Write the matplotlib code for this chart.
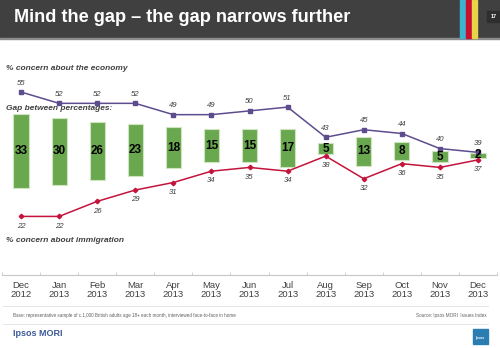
import matplotlib
matplotlib.use("Agg")
import matplotlib.pyplot as plt
from matplotlib.patches import Rectangle

plt.rcParams['font.family'] = ['Liberation Sans', 'DejaVu Sans']

# Daten
months = ['Dec', 'Jan', 'Feb', 'Mar', 'Apr', 'May', 'Jun', 'Jul', 'Aug', 'Sep', 'Oct', 'Nov', 'Dec']
years = ['2012'] + ['2013'] * 12
economy = [55, 52, 52, 52, 49, 49, 50, 51, 43, 45, 44, 40, 39]
immigration = [22, 22, 26, 29, 31, 34, 35, 34, 38, 32, 36, 35, 37]
gap = [e - i for e, i in zip(economy, immigration)]
# vertical centre of each gap bar (own scale of the bar axis)
gap_mid = [55.2, 55.2, 55.3, 55.9, 56.9, 57.8, 57.8, 56.8, 56.4, 55.2, 55.2, 52.8, 53.4]

W, H = 500, 348
fig = plt.figure(figsize=(W / 100, H / 100), dpi=100)
fig.patch.set_facecolor('white')


def fx(px):
    return px / W


def fy(py):
    return 1 - py / H


# Kopfzeile
fig.add_artist(Rectangle((0, fy(38)), 1, 38 / H, transform=fig.transFigure,
                         color='#404040', zorder=0))
fig.add_artist(Rectangle((0, fy(39)), 1, 1 / H, transform=fig.transFigure,
                         color='#8c8c8c', zorder=0))
for x0, x1, c in [(460, 465.7, '#3cb3cf'), (465.7, 472, '#c8102e'), (472, 477.3, '#e8d44a')]:
    fig.add_artist(Rectangle((fx(x0), fy(38)), (x1 - x0) / W, 38 / H,
                             transform=fig.transFigure, color=c, zorder=1))
fig.add_artist(Rectangle((fx(487), fy(22)), 13 / W, 11 / H, transform=fig.transFigure,
                         color='#2e2e2e', zorder=1))
fig.text(fx(494), fy(16.5), '17', color='white', fontsize=4, fontweight='bold',
         ha='center', va='center')
fig.text(fx(14), fy(18), 'Mind the gap \u2013 the gap narrows further', color='white',
         fontsize=13.1, fontweight='bold', ha='left', va='center')

# Achsen
ax = fig.add_axes([fx(2), fy(275), 495 / W, 215 / H])
axb = ax.twinx()
ax.set_zorder(2)
axb.set_zorder(1)
ax.patch.set_visible(False)

ax.set_xlim(-0.5, 12.5)
ax.set_ylim(6.46, 63.5)
axb.set_ylim(0, 96)

x = list(range(len(months)))

# Balken
bottoms = [m - g / 2 for m, g in zip(gap_mid, gap)]
axb.bar(x, gap, bottom=bottoms, width=0.4, color='#6aa84f', edgecolor='#cfe5c2',
        linewidth=0.8)
for xi, g, m in zip(x, gap, gap_mid):
    ax.text(xi, m, str(g), transform=axb.transData, ha='center', va='center',
            fontsize=8.5, fontweight='bold', color='black', zorder=5)

# Linien
ax.plot(x, economy, color='#5e4d8e', lw=1.1, marker='s', ms=3.2, zorder=3)
ax.plot(x, immigration, color='#c4143c', lw=1.1, marker='D', ms=2.3, zorder=3)
for xi, v in zip(x, economy):
    ax.annotate(str(v), (xi, v), xytext=(0, 6.5), textcoords='offset points',
                ha='center', va='center', fontsize=5.6, style='italic', color='#404040')
for xi, v in zip(x, immigration):
    ax.annotate(str(v), (xi, v), xytext=(0, -7), textcoords='offset points',
                ha='center', va='center', fontsize=5.6, style='italic', color='#404040')

for a in (ax, axb):
    for s in ('top', 'left', 'right'):
        a.spines[s].set_visible(False)
axb.spines['bottom'].set_visible(False)
axb.set_yticks([])
ax.set_yticks([])
ax.spines['bottom'].set_color('#c8c8c8')
ax.spines['bottom'].set_linewidth(0.8)

ax.set_xticks(x)
ax.set_xticklabels([f'{m}\n{y}' for m, y in zip(months, years)], fontsize=6.8,
                   color='#404040', linespacing=1.05)
ax.tick_params(axis='x', length=0, pad=4)
ax.set_xticks([i - 0.5 for i in range(14)], minor=True)
ax.tick_params(axis='x', which='minor', direction='in', length=2, color='#c8c8c8')

# Beschriftungen
lab = dict(fontsize=6, fontweight='bold', style='italic', color='#404040', va='center')
fig.text(fx(6), fy(69), '% concern about the economy', **lab)
fig.text(fx(6), fy(109), 'Gap between percentages:', **lab)
fig.text(fx(6), fy(241), '% concern about immigration', **lab)

# Fusszeile
fig.add_artist(plt.Line2D([fx(3), fx(488)], [fy(306), fy(306)], transform=fig.transFigure,
                          color='#e0e0e0', lw=0.6))
fig.add_artist(plt.Line2D([fx(3), fx(488)], [fy(324), fy(324)], transform=fig.transFigure,
                          color='#e0e0e0', lw=0.6))
fig.text(fx(13), fy(315), 'Base: representative sample of c.1,000 British adults age 18+ each month, '
         'interviewed face-to-face in home', fontsize=3.3, color='#606060', va='center')
fig.text(fx(487), fy(315), 'Source: Ipsos MORI  Issues Index', fontsize=3.3, color='#606060',
         va='center', ha='right')
fig.text(fx(13), fy(334), 'Ipsos MORI', fontsize=6.5, fontweight='bold', color='#3b5a96',
         va='center')
fig.add_artist(Rectangle((fx(473), fy(344)), 15 / W, 15 / H, transform=fig.transFigure,
                         color='#2b7cb0'))
fig.text(fx(480.5), fy(338), 'Ipsos', fontsize=2.5, color='white', fontweight='bold',
         ha='center', va='center')

fig.savefig('out.png', dpi=100)
